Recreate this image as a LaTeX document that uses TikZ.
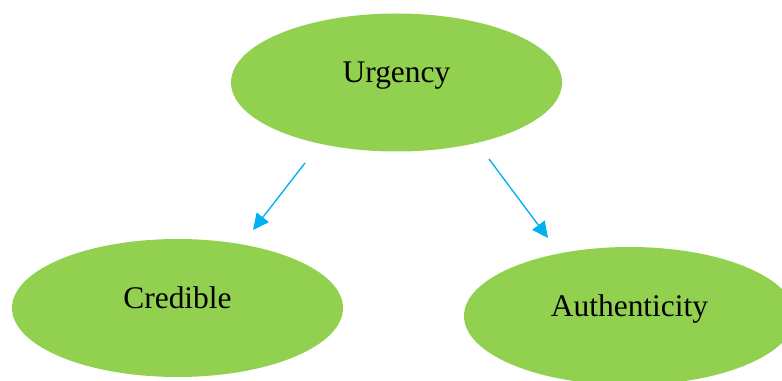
\documentclass[tikz,border=0pt]{standalone}
\usepackage{fontspec}
\setmainfont{Liberation Serif}
\usetikzlibrary{shapes.geometric,arrows.meta}

\definecolor{leafgreen}{RGB}{146,208,80}
\definecolor{skyblue}{RGB}{0,176,240}

\tikzset{every picture/.style={line width=0.75pt}}
\tikzset{
  bubble/.style={ellipse, fill=leafgreen, draw=none, inner sep=0pt,
    minimum width=248.25pt, minimum height=103.5pt, text height=0pt, text depth=0pt,
    font=\fontsize{23.6}{28}\selectfont},
  link/.style={draw=skyblue, line width=1pt, -{Triangle[length=12pt,width=11.5pt]}}
}

\begin{document}
\begin{tikzpicture}[x=0.75pt,y=0.75pt,yscale=-1,xscale=1]

\clip (0,0) rectangle (782,381);

\node [bubble] (urg) at (396.5,82.5) {Urgency};
\node [bubble] (cred) at (177.5,308) {Credible};
\node [bubble] (auth) at (629.5,316) {Authenticity};

\coordinate (l1) at (305,163);
\coordinate (l2) at (253,230);
\coordinate (r1) at (489,159);
\coordinate (r2) at (548,238);

\draw [link] (l1) -- (l2) ;
\draw [link] (r1) -- (r2) ;

\end{tikzpicture}
\end{document}
